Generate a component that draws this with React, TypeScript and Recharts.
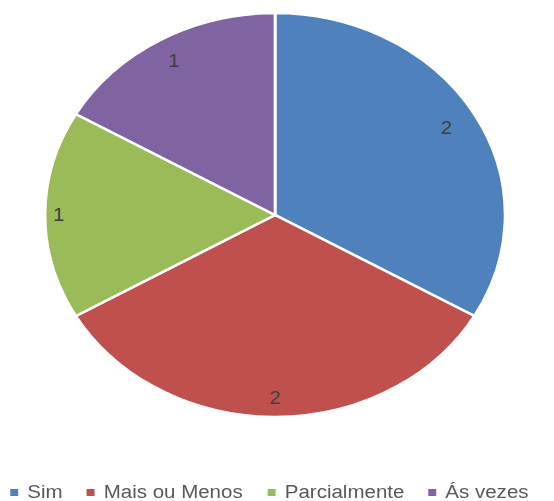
import React from "react";
import { PieChart, Pie, Cell, Legend } from "recharts";

const categories = ["Sim", "Mais ou Menos", "Parcialmente", "Ás vezes"];
const values = [2, 2, 1, 1];
const colors = ["#4F81BD", "#C0504D", "#9BBB59", "#8064A2"];

const data = categories.map((name, i) => ({ name, value: values[i] }));

const STRETCH = 1.139;
const W = 486;
const H = 501;
const labelRadiusFactors = [0.86, 0.905, 0.94, 0.88];
const legendLefts = [9, 76, 235, 376];

const RADIAN = Math.PI / 180;

const renderLabel = (props: any) => {
  const { cx, cy, midAngle, outerRadius, index, value } = props;
  const r = outerRadius * labelRadiusFactors[index];
  const x = cx + r * Math.cos(-midAngle * RADIAN);
  const y = cy + r * Math.sin(-midAngle * RADIAN);
  return (
    <text
      x={x}
      y={y}
      fill="#404040"
      fontSize={18}
      fontFamily="'Liberation Sans', Arial, sans-serif"
      textAnchor="middle"
      dominantBaseline="central"
    >
      {value}
    </text>
  );
};

const renderLegend = () => (
  <div style={{ position: "relative", width: W, height: 18 }}>
    {categories.map((c, i) => (
      <div
        key={c}
        style={{
          position: "absolute",
          left: legendLefts[i],
          top: 0,
          display: "flex",
          alignItems: "center",
          height: 18,
          lineHeight: "18px",
          whiteSpace: "nowrap",
        }}
      >
        <span
          style={{
            display: "inline-block",
            width: 7,
            height: 7,
            background: colors[i],
            marginRight: 8,
          }}
        />
        <span
          style={{
            fontFamily: "'Liberation Sans', Arial, sans-serif",
            fontSize: 18,
            lineHeight: "18px",
            color: "#595959",
          }}
        >
          {c}
        </span>
      </div>
    ))}
  </div>
);

export default function App() {
  return (
    <div
      style={{
        position: "fixed",
        top: 0,
        left: 0,
        width: W,
        height: H,
        background: "#fff",
        transform: `scaleX(${STRETCH})`,
        transformOrigin: "0 0",
      }}
    >
      <PieChart width={W} height={H} margin={{ top: 0, right: 0, bottom: 0, left: 0 }}>
        <Pie
          data={data}
          dataKey="value"
          nameKey="name"
          cx={241.5}
          cy={215}
          outerRadius={202}
          startAngle={90}
          endAngle={-270}
          stroke="#ffffff"
          strokeWidth={2.5}
          label={renderLabel}
          labelLine={false}
          isAnimationActive={false}
        >
          {data.map((d, i) => (
            <Cell key={d.name} fill={colors[i]} />
          ))}
        </Pie>
        <Legend
          content={renderLegend}
          wrapperStyle={{ position: "absolute", left: 0, top: 483, width: W, height: 18 }}
        />
      </PieChart>
    </div>
  );
}
